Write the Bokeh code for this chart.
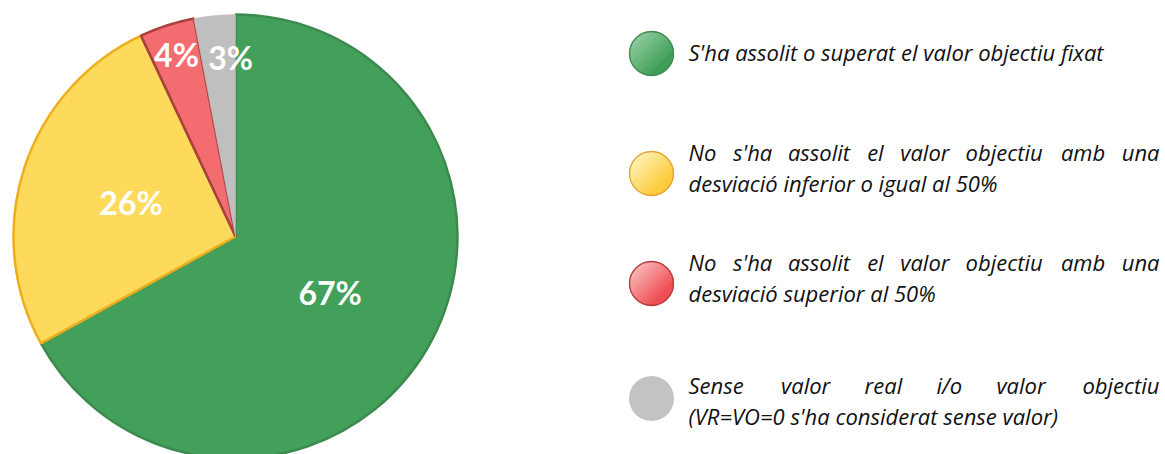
import math
from bokeh.plotting import figure
from bokeh.models import Range1d
from bokeh.core.properties import value
from bokeh.embed import file_html
from bokeh.resources import INLINE

# ---------------- data ----------------
categories = [
    "S'ha assolit o superat el valor objectiu fixat",
    "No s'ha assolit el valor objectiu amb una desviació inferior o igual al 50%",
    "No s'ha assolit el valor objectiu amb una desviació superior al 50%",
    "Sense valor real i/o valor objectiu (VR=VO=0 s'ha considerat sense valor)",
]
values = [67, 26, 4, 3]
legend_lines = [
    ["S'ha assolit o superat el valor objectiu fixat"],
    ["No s'ha assolit el valor objectiu amb una", "desviació inferior o igual al 50%"],
    ["No s'ha assolit el valor objectiu amb una", "desviació superior al 50%"],
    ["Sense valor real i/o valor objectiu", "(VR=VO=0 s'ha considerat sense valor)"],
]

# ---------------- styles ----------------
fill_colors = ["#42A05B", "#FDD95C", "#F36C70", "#BFBFBF"]
edge_colors = ["#3D8A4F", "#EEAE1C", "#A6413F", None]
grad_light = ["#8CCB9B", "#FFF1B4", "#F9B6B6", "#C3C3C3"]
grad_dark = ["#3B9C53", "#FDCA38", "#EE4A4F", "#C3C3C3"]
legend_border = ["#3F8B50", "#E6A130", "#B43A3C", None]
label_rfrac = [0.495, 0.495, 0.86, 0.81]
label_nudge = [0, 0, 0, 12]

W, H = 1165, 454


def X(px):
    return px


def Y(py):
    return H - py


p = figure(width=W, height=H, x_range=Range1d(0, W), y_range=Range1d(0, H),
           output_backend="svg", toolbar_location=None, min_border=0,
           x_axis_location=None, y_axis_location=None)
p.grid.visible = False
p.outline_line_color = None
p.background_fill_color = "white"
p.border_fill_color = "white"

# ---------------- pie ----------------
cx, cy, R = X(235), Y(236), 222
total = float(sum(values))
cum = 0.0
for i, v in enumerate(values):
    a0 = cum / total
    a1 = (cum + v) / total
    cum += v
    start = math.pi / 2 - 2 * math.pi * a1
    end = math.pi / 2 - 2 * math.pi * a0
    p.wedge(x=cx, y=cy, radius=R, start_angle=start, end_angle=end,
            fill_color=fill_colors[i],
            line_color=edge_colors[i] if edge_colors[i] else fill_colors[i],
            line_width=2.5 if edge_colors[i] else 0.5)

cum = 0.0
lx, ly, lt = [], [], []
for i, v in enumerate(values):
    mid = (cum + v / 2) / total
    cum += v
    ang = math.pi / 2 - 2 * math.pi * mid
    rr = label_rfrac[i] * R
    lx.append(cx + rr * math.cos(ang) + label_nudge[i])
    ly.append(cy + rr * math.sin(ang))
    lt.append(f"{round(100 * v / total)}%")
p.text(x=lx, y=ly, text=lt, text_color="white", text_font=value("Lato"),
       text_font_style="bold", text_font_size="32px",
       text_align="center", text_baseline="middle")

# ---------------- legend ----------------
LEG_X = 651
TEXT_L = 688
TEXT_R = 1159
FS = 22
FONT = "Open Sans"
circle_y = [53, 173, 283, 398]
line_base = [[59], [159, 190], [269, 300], [392, 423]]
MID_SHIFT = 8  # distance from baseline up to the "middle" anchor
CR = 22.5

CW = {
    "a": 0.556, "b": 0.613, "c": 0.476, "d": 0.613, "e": 0.561, "f": 0.339,
    "g": 0.548, "h": 0.614, "i": 0.253, "j": 0.253, "k": 0.525, "l": 0.253,
    "m": 0.930, "n": 0.614, "o": 0.604, "p": 0.613, "q": 0.613, "r": 0.408,
    "s": 0.477, "t": 0.353, "u": 0.614, "v": 0.501, "w": 0.778, "x": 0.524,
    "y": 0.502, "z": 0.477, "'": 0.189, "%": 0.818, "(": 0.291, ")": 0.291,
    "/": 0.367, "=": 0.572, "ó": 0.604, "S": 0.536, "N": 0.742, "V": 0.58,
    "O": 0.78, "R": 0.612,
}


def word_w(w):
    return sum(CW.get(c, 0.572) for c in w) * FS * 0.97


def hex2rgb(h):
    h = h.lstrip("#")
    return tuple(int(h[k:k + 2], 16) for k in (0, 2, 4))


def mix(c1, c2, t):
    a, b = hex2rgb(c1), hex2rgb(c2)
    return "#%02x%02x%02x" % tuple(int(round(a[k] + (b[k] - a[k]) * t)) for k in range(3))


def grad_circle(xc, yc, r, light, dark, n=28):
    d = (math.cos(-math.pi / 4), math.sin(-math.pi / 4))
    perp = (-d[1], d[0])
    xs, ys, cols = [], [], []
    for k in range(n):
        t0 = -r + 2 * r * k / n
        t1 = -r + 2 * r * (k + 1) / n
        pa = math.acos(max(-1, min(1, t1 / r)))
        pb = math.acos(max(-1, min(1, t0 / r)))
        pts = []
        m = 10
        for j in range(m + 1):
            ph = pa + (pb - pa) * j / m
            pts.append((r * math.cos(ph), r * math.sin(ph)))
        for j in range(m + 1):
            ph = -pb + (pb - pa) * j / m
            pts.append((r * math.cos(ph), r * math.sin(ph)))
        xs.append([xc + u * d[0] + v * perp[0] for u, v in pts])
        ys.append([yc + u * d[1] + v * perp[1] for u, v in pts])
        tt = (k + 0.5) / n
        cols.append(mix(light, dark, min(1.0, tt * 1.15)))
    p.patches(xs, ys, fill_color=cols, line_color=cols, line_width=0.8)


for i in range(len(values)):
    xc, yc = X(LEG_X), Y(circle_y[i])
    if grad_light[i] == grad_dark[i]:
        p.circle(x=xc, y=yc, radius=CR, fill_color=grad_light[i], line_color=None)
    else:
        grad_circle(xc, yc, CR - 0.5, grad_light[i], grad_dark[i])
        p.circle(x=xc, y=yc, radius=CR - 0.5, fill_color=None,
                 line_color=legend_border[i], line_width=1.3)

for i, lines in enumerate(legend_lines):
    for j, line in enumerate(lines):
        by = Y(line_base[i][j] - MID_SHIFT)
        last = (j == len(lines) - 1)
        if last:
            p.text(x=[X(TEXT_L)], y=[by], text=[line], text_font=value(FONT),
                   text_font_style="italic", text_font_size=f"{FS}px",
                   text_color="#111111", text_align="left", text_baseline="middle")
        else:
            words = line.split()
            ws = [word_w(w) for w in words]
            gap = (TEXT_R - TEXT_L - sum(ws)) / (len(words) - 1)
            xs = []
            pos = TEXT_L
            for k, w in enumerate(words):
                xs.append(X(pos))
                pos += ws[k] + gap
            xs[-1] = X(TEXT_R)
            p.text(x=xs[:-1], y=[by] * (len(words) - 1), text=words[:-1],
                   text_font=value(FONT), text_font_style="italic",
                   text_font_size=f"{FS}px", text_color="#111111",
                   text_align="left", text_baseline="middle")
            p.text(x=[xs[-1]], y=[by], text=[words[-1]],
                   text_font=value(FONT), text_font_style="italic",
                   text_font_size=f"{FS}px", text_color="#111111",
                   text_align="right", text_baseline="middle")

open("out.html", "w").write(file_html(p, INLINE))
